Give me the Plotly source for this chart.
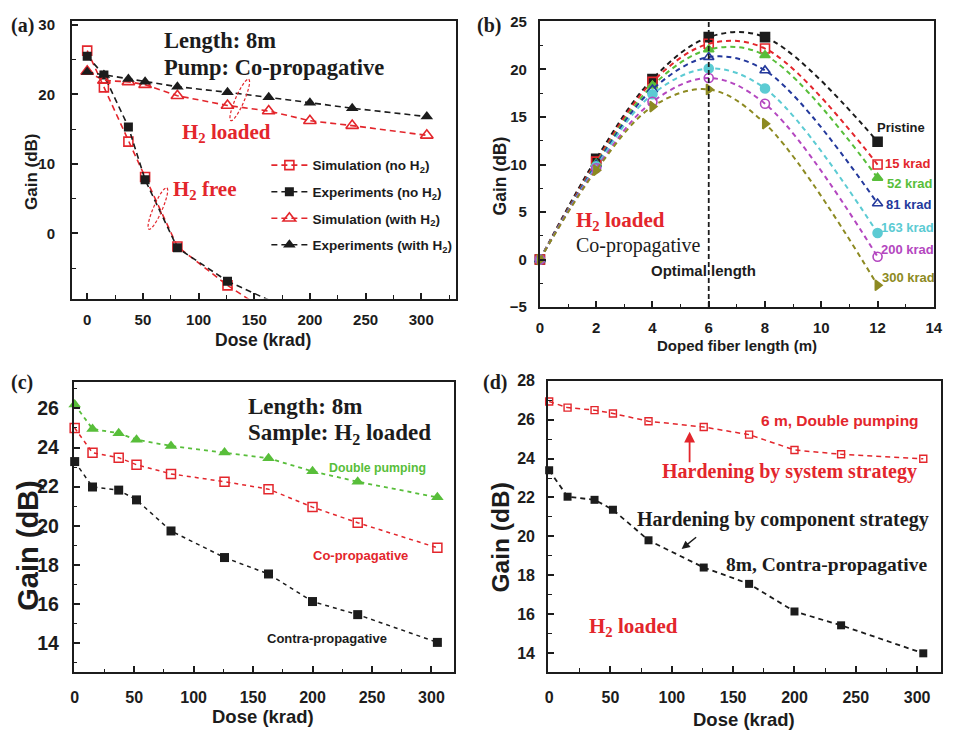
import numpy as np
import plotly.graph_objects as go

W, H = 954, 739

# ---------------- (a) gain vs dose, 8 m, co-propagative pump ----------------
dose_a = [0, 15, 37, 52, 81, 126, 163, 200, 238, 305]
sim_no_h2 = [26.3, 21.0, 13.2, 8.1, -1.9, -7.5, -11.4]
exp_no_h2 = [25.5, 22.8, 15.3, 7.7, -2.1, -6.9, -9.6]
sim_with_h2 = [23.3, 22.0, 21.8, 21.4, 19.8, 18.4, 17.6, 16.2, 15.5, 14.1]
exp_with_h2 = [23.2, 22.8, 22.2, 21.8, 21.1, 20.3, 19.6, 18.8, 18.0, 16.8]

# ---------------- (b) gain vs doped fiber length ----------------
length_b = [0, 2, 4, 6, 8, 12]
gain_pristine = [0, 10.6, 19.0, 23.4, 23.4, 12.4]
gain_15 = [0, 10.3, 18.7, 22.7, 22.2, 10.0]
gain_52 = [0, 10.1, 18.3, 22.1, 21.5, 8.6]
gain_81 = [0, 10.0, 17.9, 21.3, 19.9, 5.9]
gain_163 = [0, 9.8, 17.4, 20.1, 18.0, 2.8]
gain_200 = [0, 9.6, 16.6, 19.1, 16.4, 0.3]
gain_300 = [0, 9.4, 16.1, 17.9, 14.3, -2.7]
labels_b = ["Pristine", "15 krad", "52 krad", "81 krad", "163 krad", "200 krad", "300 krad"]

# ---------------- (c) pumping schemes, 8 m, H2 loaded ----------------
dose_c = [0, 15, 37, 52, 81, 126, 163, 200, 238, 305]
double_c = [26.2, 24.95, 24.73, 24.4, 24.08, 23.75, 23.45, 22.78, 22.25, 21.45]
co_c = [25.0, 23.73, 23.48, 23.12, 22.65, 22.25, 21.87, 20.95, 20.15, 18.87]
contra_c = [23.28, 21.98, 21.82, 21.32, 19.73, 18.37, 17.53, 16.12, 15.45, 14.03]

# ---------------- (d) hardening strategies ----------------
dose_d = [0, 15, 37, 52, 81, 126, 163, 200, 238, 305]
double6_d = [26.93, 26.62, 26.49, 26.32, 25.92, 25.62, 25.23, 24.44, 24.22, 23.99]
contra8_d = [23.40, 22.04, 21.88, 21.37, 19.80, 18.40, 17.56, 16.14, 15.43, 13.99]

RED = "#e3262c"
BLK = "#1c1c1c"
GRN = "#58be3a"
BLU = "#24399c"
CYN = "#5ccbd3"
MAG = "#b447c0"
OLV = "#8d8a22"

SANS = "Liberation Sans, Arial, sans-serif"
SERIF = "Liberation Serif, Times New Roman, serif"
DASH_A = "6px,4px"


def P(px, py):
    return px / W, 1 - py / H


def dom(x0, x1, ytop, ybot):
    return [x0 / W, x1 / W], [1 - ybot / H, 1 - ytop / H]


fig = go.Figure()

# ---- panel (a) traces ----
# the no-H2 curves run below the axis floor: the in-range points carry markers,
# the last segment is drawn as a plain line
N_SHOWN = 6
fig.add_trace(go.Scatter(
    x=dose_a[:N_SHOWN], y=sim_no_h2[:N_SHOWN], xaxis="x", yaxis="y", mode="lines+markers",
    name="Simulation (no H<sub>2</sub>)", legendgroup="g1",
    line=dict(color=RED, width=1.6, dash=DASH_A),
    marker=dict(symbol="square-open", size=9, color=RED, line=dict(width=1.6))))
fig.add_trace(go.Scatter(
    x=dose_a[N_SHOWN - 1:len(sim_no_h2)], y=sim_no_h2[N_SHOWN - 1:], xaxis="x", yaxis="y",
    mode="lines", showlegend=False, legendgroup="g1",
    line=dict(color=RED, width=1.6, dash=DASH_A)))
fig.add_trace(go.Scatter(
    x=dose_a[:N_SHOWN], y=exp_no_h2[:N_SHOWN], xaxis="x", yaxis="y", mode="lines+markers",
    name="Experiments (no H<sub>2</sub>)", legendgroup="g2",
    line=dict(color=BLK, width=1.6, dash=DASH_A),
    marker=dict(symbol="square", size=9, color=BLK)))
fig.add_trace(go.Scatter(
    x=dose_a[N_SHOWN - 1:len(exp_no_h2)], y=exp_no_h2[N_SHOWN - 1:], xaxis="x", yaxis="y",
    mode="lines", showlegend=False, legendgroup="g2",
    line=dict(color=BLK, width=1.6, dash=DASH_A)))
fig.add_trace(go.Scatter(
    x=dose_a, y=sim_with_h2, xaxis="x", yaxis="y", mode="lines+markers",
    name="Simulation (with H<sub>2</sub>)", legendgroup="g3",
    line=dict(color=RED, width=1.6, dash=DASH_A),
    marker=dict(symbol="triangle-up-open", size=11, color=RED, line=dict(width=1.6))))
fig.add_trace(go.Scatter(
    x=dose_a, y=exp_with_h2, xaxis="x", yaxis="y", mode="lines+markers",
    name="Experiments (with H<sub>2</sub>)", legendgroup="g4",
    line=dict(color=BLK, width=1.6, dash=DASH_A),
    marker=dict(symbol="triangle-up", size=11, color=BLK)))

# ---- panel (b) traces ----
series_b = [
    (gain_pristine, BLK, "square"),
    (gain_15, RED, "square-open"),
    (gain_52, GRN, "triangle-up"),
    (gain_81, BLU, "triangle-up-open"),
    (gain_163, CYN, "circle"),
    (gain_200, MAG, "circle-open"),
    (gain_300, OLV, "triangle-right"),
]
for (vals, col, sym), lab in zip(series_b, labels_b):
    fig.add_trace(go.Scatter(
        x=length_b, y=vals, xaxis="x2", yaxis="y2", mode="lines+markers",
        name=lab, showlegend=False, cliponaxis=False,
        line=dict(color=col, width=2, dash="5px,4px", shape="spline", smoothing=1.0),
        marker=dict(symbol=sym, size=9, color=col, line=dict(width=1.6, color=col))))

# ---- panel (c) traces ----
fig.add_trace(go.Scatter(
    x=dose_c, y=double_c, xaxis="x3", yaxis="y3", mode="lines+markers", showlegend=False,
    cliponaxis=False, name="Double pumping",
    line=dict(color=GRN, width=1.8, dash="4px,4px"),
    marker=dict(symbol="triangle-up", size=11, color=GRN)))
fig.add_trace(go.Scatter(
    x=dose_c, y=co_c, xaxis="x3", yaxis="y3", mode="lines+markers", showlegend=False,
    cliponaxis=False, name="Co-propagative",
    line=dict(color=RED, width=1.5, dash="4px,4px"),
    marker=dict(symbol="square-open", size=9, color=RED, line=dict(width=1.5))))
fig.add_trace(go.Scatter(
    x=dose_c, y=contra_c, xaxis="x3", yaxis="y3", mode="lines+markers", showlegend=False,
    cliponaxis=False, name="Contra-propagative",
    line=dict(color=BLK, width=1.5, dash="4px,4px"),
    marker=dict(symbol="square", size=9, color=BLK)))

# ---- panel (d) traces ----
fig.add_trace(go.Scatter(
    x=dose_d, y=double6_d, xaxis="x4", yaxis="y4", mode="lines+markers", showlegend=False,
    cliponaxis=False, name="6 m, Double pumping",
    line=dict(color=RED, width=1.5, dash="5px,4px"),
    marker=dict(symbol="square-open", size=7, color=RED, line=dict(width=1.4))))
fig.add_trace(go.Scatter(
    x=dose_d, y=contra8_d, xaxis="x4", yaxis="y4", mode="lines+markers", showlegend=False,
    cliponaxis=False, name="8m, Contra-propagative",
    line=dict(color=BLK, width=1.8, dash="5px,4px"),
    marker=dict(symbol="square", size=8, color=BLK)))


def axis(domain, rng, dtick, minor, size, standoff, anchor):
    return dict(domain=domain, range=rng, dtick=dtick, tick0=0, ticks="inside", ticklen=6,
                tickwidth=1.5, tickcolor=BLK, showline=True, linecolor=BLK, linewidth=2,
                mirror=True, showgrid=False, zeroline=False, anchor=anchor,
                minor=dict(dtick=minor, tick0=0, ticks="inside", ticklen=3.5, tickwidth=1.3,
                           tickcolor=BLK, showgrid=False),
                tickfont=dict(family=SANS, size=size, color=BLK, weight="bold"),
                ticklabelstandoff=standoff)


xa, ya = dom(69, 458, 13, 297)
xb, yb = dom(543.3, 942.7, 13.3, 305.7)
xc, yc = dom(70.7, 456, 382.3, 679)
xd, yd = dom(551.7, 950, 381, 678.3)

fig.update_layout(
    width=W, height=H, margin=dict(l=0, r=0, t=0, b=0),
    paper_bgcolor="white", plot_bgcolor="white",
    xaxis=axis(xa, [-13.6, 331], 50, 25, 15, 6, "y"),
    yaxis=axis(ya, [-9.4, 30.6], 10, 5, 15, 12, "x"),
    xaxis2=axis(xb, [0, 14], 2, 1, 15, 6, "y2"),
    yaxis2=axis(yb, [-5, 25.1], 5, 2.5, 15, 8, "x2"),
    xaxis3=axis(xc, [-0.8, 318.8], 50, 25, 16, 10, "y3"),
    yaxis3=axis(yc, [12.5, 27.35], 2, 1, 19.5, 9, "x3"),
    xaxis4=axis(xd, [-0.8, 319.5], 50, 25, 16, 10, "y4"),
    yaxis4=axis(yd, [13.05, 28], 2, 1, 16, 8, "x4"),
    legend=dict(x=266 / W, y=1 - 145 / H, xanchor="left", yanchor="top",
                bgcolor="rgba(0,0,0,0)", itemwidth=36, tracegroupgap=6,
                font=dict(family=SANS, size=13.5, color=BLK, weight="bold")),
    showlegend=True,
)

ann = []


def txt(x, y, text, size, color=BLK, family=SERIF, bold=True, xanchor="left",
        xref="x", yref="y", angle=0):
    ann.append(dict(x=x, y=y, xref=xref, yref=yref, text=text, showarrow=False,
                    xanchor=xanchor, yanchor="middle", textangle=angle,
                    font=dict(family=family, size=size, color=color,
                              weight="bold" if bold else "normal")))


def ptxt(px, py, text, size, color=BLK, family=SANS, bold=True, xanchor="center", angle=0):
    x, y = P(px, py)
    txt(x, y, text, size, color, family, bold, xanchor, "paper", "paper", angle)


# panel letters
ptxt(5, 18, "(a)", 20, family=SERIF, xanchor="left")
ptxt(478, 18, "(b)", 20, family=SERIF, xanchor="left")
ptxt(5, 383, "(c)", 20, family=SERIF, xanchor="left")
ptxt(484, 383, "(d)", 20, family=SERIF, xanchor="left")

# axis titles
ptxt(28, 167, "Gain (dB)", 17, angle=-90)
ptxt(263, 339, "Dose (krad)", 17.5)
ptxt(503, 172, "Gain (dB)", 17.5, angle=-90)
ptxt(743, 345, "Doped fiber length (m)", 15)
ptxt(24, 549, "Gain (dB)", 29, angle=-90)
ptxt(263, 724, "Dose (krad)", 18.5)
ptxt(503, 541, "Gain (dB)", 24.5, angle=-90)
ptxt(750, 727, "Dose (krad)", 18.5)

# (a) text
txt(67, 27.7, "Length: 8m", 22.5)
txt(67, 23.8, "Pump: Co-propagative", 22.5)
txt(125.5, 14.4, "H<sub>2</sub> loaded", 21, color=RED, xanchor="center")
txt(106, 6.2, "H<sub>2</sub> free", 21, color=RED, xanchor="center")

# (b) text
for lab, col, xv, yv in zip(labels_b, [BLK, RED, GRN, BLU, CYN, MAG, OLV],
                            [11.92, 12.2, 12.27, 12.23, 12.05, 12.05, 12.09],
                            [13.9, 10.07, 8.0, 5.77, 3.37, 1.03, -1.9]):
    txt(xv, yv, lab, 13, color=col, family=SANS, xref="x2", yref="y2")
txt(5.81, -1.13, "Optimal length", 15, family=SANS, xanchor="center", xref="x2", yref="y2")
txt(1.21, 4.1, "H<sub>2</sub> loaded", 21, color=RED, xref="x2", yref="y2")
txt(1.21, 1.5, "Co-propagative", 20, bold=False, xref="x2", yref="y2")

# (c) text
txt(143.7, 26.1, "Length: 8m", 23, xref="x3", yref="y3")
txt(143.7, 24.7, "Sample: H<sub>2</sub> loaded", 23, xref="x3", yref="y3")
txt(212.6, 22.95, "Double pumping", 12.3, color=GRN, family=SANS, xref="x3", yref="y3")
txt(198.5, 18.5, "Co-propagative", 13, color=RED, family=SANS, xref="x3", yref="y3")
txt(160.3, 14.25, "Contra-propagative", 13, color=BLK, family=SANS, xref="x3", yref="y3")

# (d) text
txt(170.8, 25.95, "6 m, Double pumping", 15.5, color=RED, family=SANS, xref="x4", yref="y4")
txt(90.3, 23.32, "Hardening by system strategy", 20, color=RED, xref="x4", yref="y4")
txt(70.2, 20.86, "Hardening by component strategy", 20, xref="x4", yref="y4")
txt(142.6, 18.54, "8m, Contra-propagative", 19.5, xref="x4", yref="y4")
txt(30.8, 15.32, "H<sub>2</sub> loaded", 21, color=RED, xref="x4", yref="y4")

# (d) arrows
ann.append(dict(x=114.5, y=25.38, xref="x4", yref="y4", ax=0, ay=32, showarrow=True,
                arrowhead=2, arrowsize=1.2, arrowwidth=1.8, arrowcolor=RED, text=""))
ann.append(dict(x=108, y=19.35, xref="x4", yref="y4", ax=16, ay=-13, showarrow=True,
                arrowhead=2, arrowsize=1.1, arrowwidth=1.5, arrowcolor=BLK, text=""))

fig.update_layout(annotations=ann)

# (b) optimal-length marker line
fig.add_shape(type="line", xref="x2", yref="y2", x0=6, x1=6, y0=-5, y1=25.1,
              line=dict(color=BLK, width=1.8, dash="5px,3px"))


# (a) dashed ellipses grouping the curves
def ellipse_path(cx, cy, half_len, half_wid, dx, dy, n=60):
    ang = np.arctan2(dy, dx)
    t = np.linspace(0, 2 * np.pi, n)
    px = cx + half_len * np.cos(t) * np.cos(ang) - half_wid * np.sin(t) * np.sin(ang)
    py = cy + half_len * np.cos(t) * np.sin(ang) + half_wid * np.sin(t) * np.cos(ang)
    pts = [P(a, b) for a, b in zip(px, py)]
    return "M " + " L ".join(f"{a:.5f},{b:.5f}" for a, b in pts) + " Z"


for cx, cy in [(239, 94), (156, 205)]:
    fig.add_shape(type="path", xref="paper", yref="paper",
                  path=ellipse_path(cx, cy, 23, 4.5, 18, -42),
                  line=dict(color=RED, width=1.2, dash="3px,2px"))

fig.write_html("out.html")
